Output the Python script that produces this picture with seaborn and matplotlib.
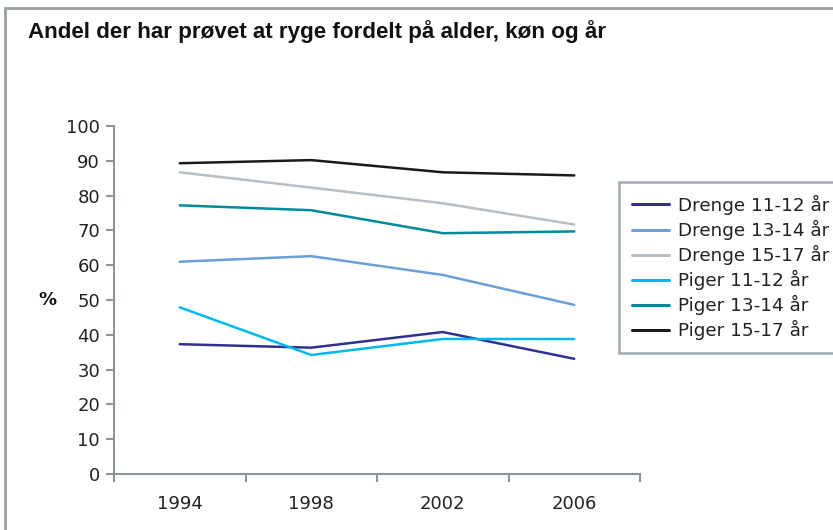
import matplotlib
matplotlib.use('Agg')
import matplotlib.pyplot as plt
import seaborn as sns
import pandas as pd
from matplotlib.patches import Rectangle

sns.set_style('white')
plt.rcParams['font.family'] = ['DejaVu Sans']

years = ['1994', '1998', '2002', '2006']
drenge_11_12 = [37.3, 36.3, 40.8, 33.1]
drenge_13_14 = [61.0, 62.6, 57.2, 48.6]
drenge_15_17 = [86.7, 82.3, 77.8, 71.7]
piger_11_12 = [47.9, 34.2, 38.8, 38.8]
piger_13_14 = [77.2, 75.8, 69.2, 69.7]
piger_15_17 = [89.3, 90.2, 86.7, 85.8]

series = {
    'Drenge 11-12 år': drenge_11_12,
    'Drenge 13-14 år': drenge_13_14,
    'Drenge 15-17 år': drenge_15_17,
    'Piger 11-12 år': piger_11_12,
    'Piger 13-14 år': piger_13_14,
    'Piger 15-17 år': piger_15_17,
}
colors = ['#2e3192', '#6a9fd8', '#b8bfc4', '#00b8f0', '#008b9a', '#1a1a1a']

rows = []
for name, vals in series.items():
    for i, v in enumerate(vals):
        rows.append({'pos': i, 'Gruppe': name, 'Pct': v})
df = pd.DataFrame(rows)

W, H = 833, 530
fig = plt.figure(figsize=(W / 100, H / 100), dpi=100)
ax = fig.add_axes([114 / W, 1 - 474 / H, (640 - 114) / W, (474 - 126) / H])

sns.lineplot(data=df, x='pos', y='Pct', hue='Gruppe', palette=colors,
             linewidth=1.8, ax=ax, legend=True)

grey = '#8c959b'
ax.set_xlim(-0.5, 3.5)
ax.set_ylim(0, 100)
ax.set_yticks(range(0, 101, 10))
ax.set_xticks([-0.5, 0.5, 1.5, 2.5, 3.5])
ax.set_xticklabels([])
ax.set_xticks(range(4), minor=True)
ax.set_xticklabels(years, minor=True)
ax.tick_params(axis='x', which='major', bottom=True, direction='out', length=6, width=1.5, color=grey)
ax.tick_params(axis='x', which='minor', bottom=True, length=0, pad=15, labelsize=13, labelcolor='#222222')
ax.tick_params(axis='y', left=True, direction='out', length=6, width=1.5, color=grey,
               labelsize=13, labelcolor='#222222', pad=4)
for s in ['top', 'right']:
    ax.spines[s].set_visible(False)
for s in ['left', 'bottom']:
    ax.spines[s].set_color(grey)
    ax.spines[s].set_linewidth(1.5)
ax.set_xlabel('')
ax.set_ylabel('')

leg = ax.legend(loc='upper left', bbox_to_anchor=(619 / W, 1 - 182 / H),
                bbox_transform=fig.transFigure, fontsize=13.2, frameon=True,
                handlelength=2.0, handletextpad=0.5, labelspacing=0.27,
                borderpad=0.7, fancybox=False, borderaxespad=0)
leg.get_frame().set_edgecolor(grey)
leg.get_frame().set_linewidth(1.8)
for t in leg.get_texts():
    t.set_color('#222222')
for h in leg.get_lines():
    h.set_linewidth(2.2)

fig.text(28 / W, 1 - 38 / H, 'Andel der har prøvet at ryge fordelt på alder, køn og år',
         fontsize=16.1, fontweight='bold', family='Liberation Sans', va='baseline', color='#111111')
fig.text(47 / W, 1 - 300 / H, '%', fontsize=13, fontweight='bold', ha='center', va='center',
         color='#111111')

fig.patches.append(Rectangle((5 / W, -0.05), 1.2, 1 - 8 / H + 0.05, transform=fig.transFigure,
                             fill=False, edgecolor='#9aa0a5', linewidth=2))

fig.savefig('out.png', dpi=100)
